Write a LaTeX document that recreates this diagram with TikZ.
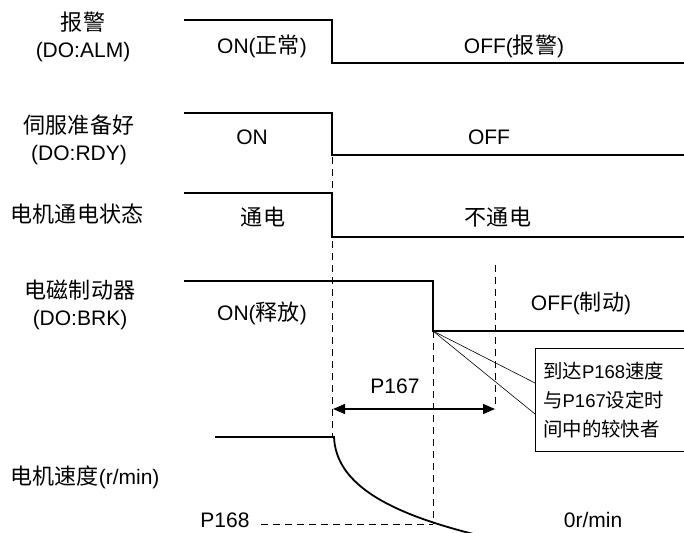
\documentclass[tikz,border=0pt]{standalone}
\usepackage{fontspec}
\setmainfont{Liberation Sans}
\newfontfamily\cjk[Scale=1.05]{Noto Sans CJK SC}
\usetikzlibrary{arrows.meta}

\begin{document}
\begin{tikzpicture}[x=1pt,y=-1pt,
    font=\fontsize{21}{27}\selectfont,
    sig/.style={line width=1.8pt},
    guide/.style={line width=0.9pt, dash pattern=on 7pt off 5pt},
    lead/.style={line width=0.6pt}]
    \useasboundingbox (0,0) rectangle (684,532);
    \clip (0,0) rectangle (684,532);
    % signal names
    \node[align=center] (alm) at (83,37) {{\cjk 报警}\\(DO:ALM)};
    \node[align=center] (rdy) at (79,140) {{\cjk 伺服准备好}\\(DO:RDY)};
    \node (pwr) at (77,214) {\cjk 电机通电状态};
    \node[align=center] (brk) at (80,305) {{\cjk 电磁制动器}\\(DO:BRK)};
    \node (spd) at (85,477) {{\cjk 电机速度}(r/min)};
    % waveforms
    \draw[sig] (184,20) -- (332,20) -- (332,63) -- (690,63);
    \draw[sig] (184,113) -- (332,113) -- (332,155) -- (690,155);
    \draw[sig] (184,193) -- (332,193) -- (332,237) -- (690,237);
    \draw[sig] (184,281) -- (433,281) -- (433,331) -- (690,331);
    \draw[sig] (215,437) -- (334,437) .. controls (336,485) and (390,515) .. (490,538);
    \node (almon) at (262,46) {ON({\cjk 正常})};
    \node (almoff) at (514,46) {OFF({\cjk 报警})};
    \node (rdyon) at (252,137) {ON};
    \node (rdyoff) at (489,137) {OFF};
    \node (pwron) at (263,217) {\cjk 通电};
    \node (pwroff) at (498,217) {\cjk 不通电};
    \node (brkon) at (262,313) {ON({\cjk 释放})};
    \node (brkoff) at (581,303) {OFF({\cjk 制动})};
    % timing guides
    \coordinate (tstop) at (332,157);
    \coordinate (tspd) at (332,437);
    \coordinate (brkfall) at (433,331);
    \coordinate (tcross) at (433,524);
    \coordinate (tlim) at (495,265);
    \draw[guide] (tstop) -- (tspd);
    \draw[guide] (brkfall) -- (tcross);
    \draw[guide] (tlim) -- (495,409);
    \node (p168) at (225,520) {P168};
    \draw[guide] (p168.east |- tcross) ++(8,0) -- (tcross);
    \node (zero) at (593,520) {0r/min};
    \coordinate (pa) at (333,409);
    \coordinate (pb) at (495,409);
    \draw[line width=1.4pt, {Triangle[length=12pt,width=10pt]}-{Triangle[length=12pt,width=10pt]}] (pa) -- (pb);
    \node (p167) at (395,386) {P167};
    % note
    \node[anchor=north west, minimum height=103pt, text width=140pt,
          align=left, inner xsep=8pt, font=\fontsize{18.5}{29}\selectfont] (note) at (535,348)
          {{\cjk 到达}P168{\cjk 速度}\\{\cjk 与}P167{\cjk 设定时}\\{\cjk 间中的较快者}};
    \draw[lead] (note.north west -| 690,0) -- (note.north west) -- (note.south west) -- (note.south west -| 690,0);
    \draw[lead] (brkfall) -- (note.west |- 0,383);
    \draw[lead] (brkfall) -- (note.west |- 0,414);
\end{tikzpicture}
\end{document}
